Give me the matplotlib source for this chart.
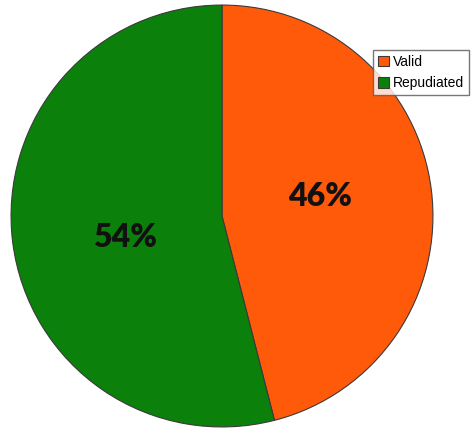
import matplotlib.pyplot as plt

labels = ["Valid", "Repudiated"]
shares = [46, 54]
colors = ["#FF5A0A", "#0B800B"]

fig = plt.figure(figsize=(4.72, 4.32), dpi=100)
ax = fig.add_axes([10 / 472, 4 / 432, 424 / 472, 424 / 432])

wedges, texts, autotexts = ax.pie(
    shares,
    colors=colors,
    startangle=90,
    counterclock=False,
    autopct="%d%%",
    pctdistance=0.48,
    wedgeprops=dict(edgecolor="#3a3a3a", linewidth=0.8),
    textprops=dict(fontsize=23, fontweight="heavy", family="Lato", color="#111111"),
)
# nudge percentage labels a little off the bisector
autotexts[0].set_position((0.467, 0.094))
autotexts[1].set_position((-0.462, -0.104))

ax.set_aspect("equal")
ax.set_xlim(-1.005, 1.005)
ax.set_ylim(-1.005, 1.005)

fig.legend(
    wedges,
    labels,
    loc="upper left",
    bbox_to_anchor=(366 / 472, 1 - 43 / 432),
    prop=dict(family="Liberation Sans", size=10),
    frameon=True,
    fancybox=False,
    edgecolor="#555555",
    handlelength=0.8,
    handleheight=0.8,
    handletextpad=0.3,
    borderpad=0.35,
    labelspacing=0.55,
)

fig.savefig("out.png", dpi=100)
